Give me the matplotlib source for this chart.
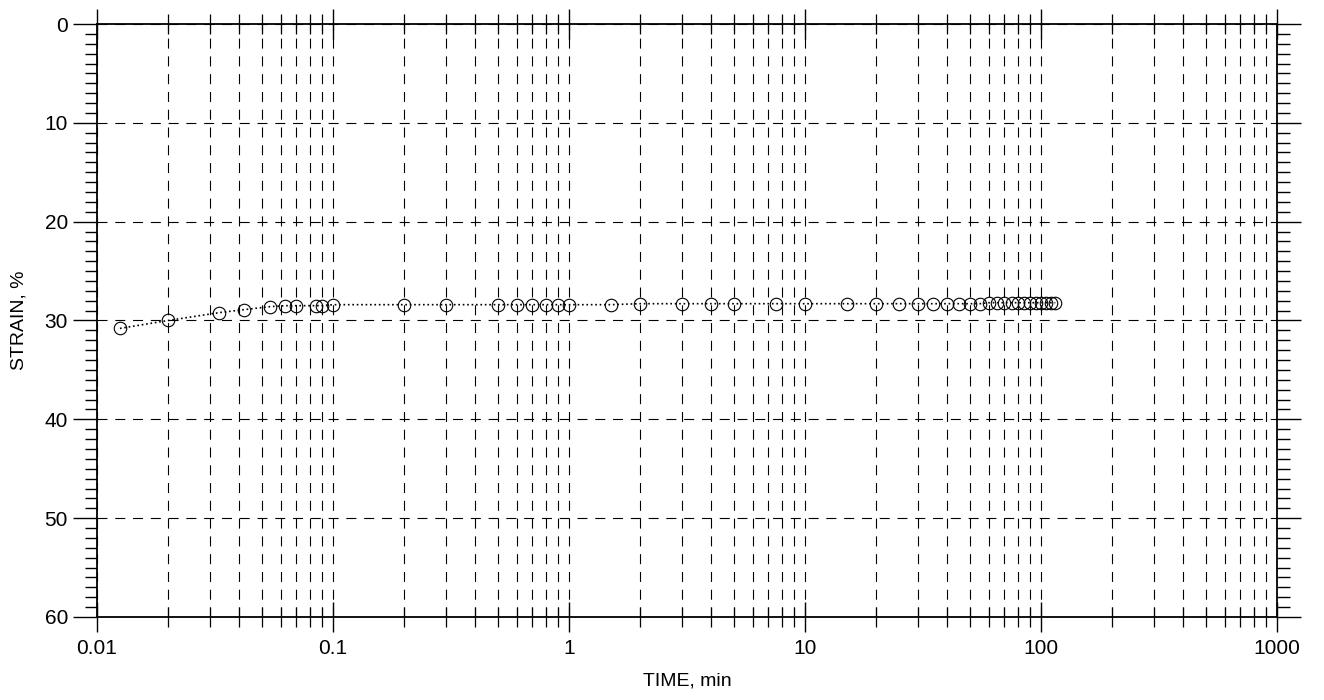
import matplotlib
matplotlib.use("Agg")
import matplotlib.pyplot as plt
from matplotlib.ticker import LogLocator, FixedLocator, NullFormatter, FixedFormatter

# time readings (min) and strain (%)
time_min = [0.0125, 0.02, 0.033, 0.042, 0.054, 0.0625, 0.07, 0.085, 0.09, 0.1,
            0.2, 0.3, 0.5, 0.6, 0.7, 0.8, 0.9, 1.0, 1.5, 2.0,
            3.0, 4.0, 5.0, 7.5, 10.0, 15.0, 20.0, 25.0, 30.0, 35.0,
            40.0, 45.0, 50.0, 55.0, 60.0, 65.0, 70.0, 75.0, 80.0, 85.0,
            90.0, 95.0, 100.0, 105.0, 110.0, 115.0]
strain = [30.8, 30.0, 29.2, 28.9, 28.6, 28.5, 28.5, 28.5, 28.5, 28.4,
          28.4, 28.4, 28.4, 28.4, 28.4, 28.4, 28.4, 28.4, 28.4, 28.3,
          28.3, 28.3, 28.3, 28.3, 28.3, 28.3, 28.3, 28.3, 28.3, 28.3,
          28.3, 28.3, 28.3, 28.3, 28.2, 28.2, 28.2, 28.2, 28.2, 28.2,
          28.2, 28.2, 28.2, 28.2, 28.2, 28.2]

x_ticks = [0.01, 0.1, 1, 10, 100, 1000]
x_labels = ["0.01", "0.1", "1", "10", "100", "1000"]
y_ticks = [0, 10, 20, 30, 40, 50, 60]

plt.rcParams['font.family'] = ['Liberation Sans', 'DejaVu Sans']

fig = plt.figure(figsize=(13.24, 7.0), dpi=100)
ax = fig.add_axes([0.0733, 0.1186, 0.8912, 0.8471])

# data: dotted line with open circles
ax.plot(time_min, strain, linestyle=':', color='black', linewidth=1.2,
        marker='o', markersize=9, markerfacecolor='none',
        markeredgecolor='black', markeredgewidth=0.8, zorder=3)

ax.set_xscale('log')
ax.set_xlim(0.01, 1000)
ax.set_ylim(60, 0)

ax.xaxis.set_major_locator(FixedLocator(x_ticks))
ax.xaxis.set_major_formatter(FixedFormatter(x_labels))
ax.xaxis.set_minor_locator(LogLocator(base=10, subs=range(2, 10), numticks=20))
ax.xaxis.set_minor_formatter(NullFormatter())

ax.set_yticks(y_ticks)
ax.set_yticks(range(0, 61), minor=True)

# grid lines
ax.grid(True, which='major', axis='both', linestyle=(0, (9, 7)),
        color='black', linewidth=0.8)
ax.grid(True, which='minor', axis='x', linestyle=(0, (9, 7)),
        color='black', linewidth=0.8)

# ticks
ax.tick_params(axis='x', which='major', direction='inout', length=22,
               width=1.0, top=True, bottom=True, labelsize=15, pad=5)
ax.tick_params(axis='x', which='minor', direction='inout', length=14,
               width=0.9, top=True, bottom=True)
ax.tick_params(axis='y', which='major', direction='out', length=17,
               width=1.0, left=True, right=True, labelsize=15, pad=4)
ax.tick_params(axis='y', which='minor', direction='out', length=9,
               width=1.0, left=True, right=True)

for side in ['top', 'bottom', 'left', 'right']:
    ax.spines[side].set_linewidth(1.3)
    ax.spines[side].set_color('black')

ax.set_xlabel('TIME, min', fontsize=14, labelpad=10)
ax.set_ylabel('STRAIN, %', fontsize=14, labelpad=12)

fig.savefig('out.png', dpi=100, facecolor='white')
